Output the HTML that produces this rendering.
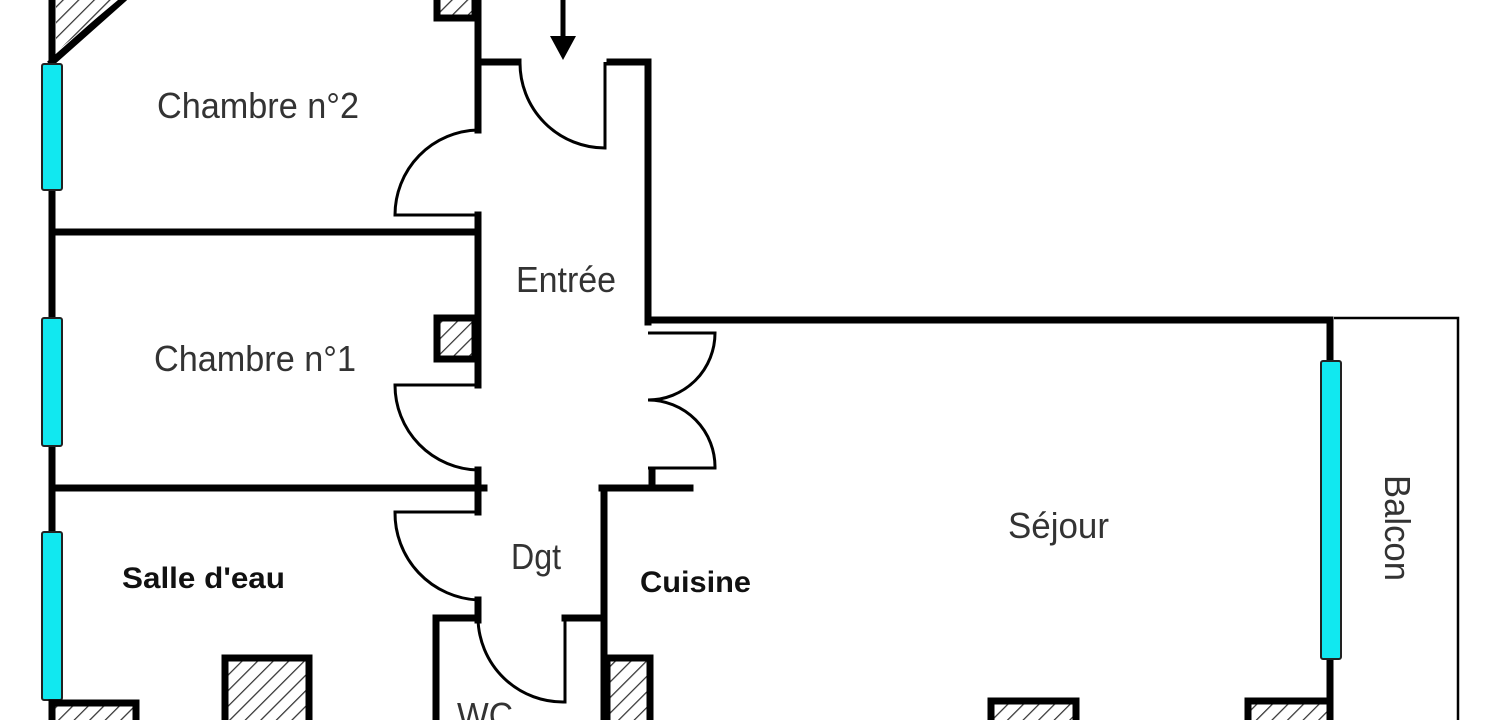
<!DOCTYPE html>
<html><head><meta charset="utf-8"><style>
html,body{margin:0;padding:0;background:#fff;}
svg{display:block;}
text{font-family:"Liberation Sans",sans-serif;}
</style></head><body>
<svg width="1500" height="720" viewBox="0 0 1500 720" xmlns="http://www.w3.org/2000/svg">
<defs>
<pattern id="h" width="11" height="11" patternUnits="userSpaceOnUse" patternTransform="rotate(45)">
<rect width="11" height="11" fill="#fff"/><line x1="0" y1="0" x2="0" y2="11" stroke="#333" stroke-width="2.5"/>
</pattern>
</defs>
<g stroke="#000" stroke-width="7" fill="none" stroke-linecap="square">
<line x1="52" y1="0" x2="52" y2="700"/>
<line x1="478" y1="0" x2="478" y2="130"/>
<line x1="478" y1="215" x2="478" y2="385"/>
<line x1="478" y1="470" x2="478" y2="512"/>
<line x1="478" y1="600" x2="478" y2="620"/>
<line x1="52" y1="232" x2="478" y2="232"/>
<line x1="52" y1="488" x2="484" y2="488"/>
<line x1="478" y1="62" x2="518" y2="62"/>
<line x1="610" y1="62" x2="648" y2="62"/>
<line x1="648" y1="62" x2="648" y2="322"/>
<line x1="648" y1="320" x2="1330" y2="320"/>
<line x1="1330" y1="320" x2="1330" y2="720"/>
<line x1="602" y1="488" x2="690" y2="488"/>
<line x1="604" y1="488" x2="604" y2="720"/>
<line x1="652" y1="470" x2="652" y2="488"/>
<line x1="436" y1="618" x2="478" y2="618"/>
<line x1="565" y1="618" x2="604" y2="618"/>
<line x1="436" y1="618" x2="436" y2="720"/>
<line x1="52" y1="62" x2="122" y2="0"/>
</g>
<polygon points="56,0 118,0 56,52" fill="url(#h)"/>
<g stroke="#000" stroke-width="3" fill="none">
<path d="M520 62 A85 85 0 0 0 605 148 L605 62"/>
<path d="M478 130 A85 85 0 0 0 395 215 L478 215"/>
<path d="M478 385 L395 385 A85 85 0 0 0 478 470"/>
<path d="M478 512 L395 512 A87 87 0 0 0 478 600"/>
<path d="M648 333 L715 333 A67 67 0 0 1 648 400 A67 67 0 0 1 715 468 L648 468"/>
<path d="M478 618 A85 85 0 0 0 565 702 L565 618"/>
</g>
<polyline points="1334,318 1458,318 1458,720" stroke="#000" stroke-width="2.5" fill="none"/>
<g fill="#11e8f0" stroke="#222" stroke-width="2">
<rect x="42" y="64" width="20" height="126" rx="2"/>
<rect x="42" y="318" width="20" height="128" rx="2"/>
<rect x="42" y="532" width="20" height="168" rx="2"/>
<rect x="1321" y="361" width="20" height="298" rx="2"/>
</g>
<g fill="url(#h)" stroke="#000" stroke-width="7">
<rect x="437" y="-10" width="38" height="28"/>
<rect x="437" y="318" width="38" height="41"/>
<rect x="52" y="703" width="84" height="30"/>
<rect x="225" y="658" width="84" height="70"/>
<rect x="607" y="658" width="43" height="70"/>
<rect x="991" y="701" width="85" height="30"/>
<rect x="1248" y="701" width="82" height="30"/>
</g>
<line x1="563" y1="0" x2="563" y2="40" stroke="#000" stroke-width="5"/>
<polygon points="550,36 576,36 563,60" fill="#000"/>
<g fill="#333" font-size="36">
<text x="157" y="118" textLength="202" lengthAdjust="spacingAndGlyphs">Chambre n°2</text>
<text x="516" y="292" textLength="100" lengthAdjust="spacingAndGlyphs">Entrée</text>
<text x="154" y="371" textLength="202" lengthAdjust="spacingAndGlyphs">Chambre n°1</text>
<text x="1008" y="538" textLength="101" lengthAdjust="spacingAndGlyphs">Séjour</text>
<text x="511" y="569" textLength="50" lengthAdjust="spacingAndGlyphs">Dgt</text>
<text x="457" y="728" textLength="56" lengthAdjust="spacingAndGlyphs">WC</text>
<text x="1385" y="475" textLength="106" lengthAdjust="spacingAndGlyphs" transform="rotate(90 1385 475)">Balcon</text>
</g>
<g fill="#111" font-size="30" font-weight="bold">
<text x="122" y="588" textLength="163" lengthAdjust="spacingAndGlyphs">Salle d'eau</text>
<text x="640" y="592" textLength="111" lengthAdjust="spacingAndGlyphs">Cuisine</text>
</g>
</svg>
</body></html>
